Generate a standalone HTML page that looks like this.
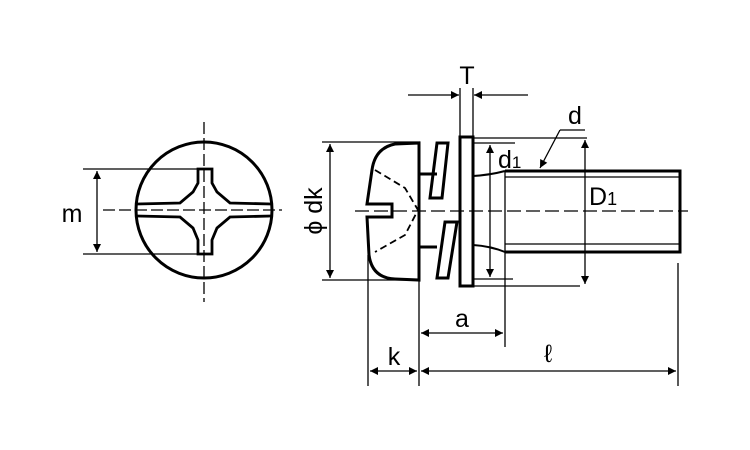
<!DOCTYPE html>
<html><head><style>body{margin:0;background:#fff}svg{display:block}</style></head><body>
<svg width="750" height="450" viewBox="0 0 750 450" xmlns="http://www.w3.org/2000/svg" font-family="Liberation Sans, sans-serif">
<defs>
<marker id="a" viewBox="0 0 10 10" refX="10" refY="5" markerWidth="14" markerHeight="8" markerUnits="userSpaceOnUse" orient="auto-start-reverse"><path d="M0,0L10,5L0,10z" fill="#000"/></marker>
</defs>
<g stroke="#000" fill="none">
<!-- front view -->
<circle cx="204" cy="210" r="68" stroke-width="3"/>
<line x1="204" y1="122" x2="204" y2="302" stroke-width="1.3" stroke-dasharray="12,4"/>
<line x1="103" y1="210" x2="282" y2="210" stroke-width="1.3" stroke-dasharray="12,4"/>
<path d="M137,204 L180,203 L193,192 L198,183 L198,169 L212,169 L212,183 L217,192 L230,203 L271,204 M137,216 L180,217 L193,228 L198,240 L198,254 L212,254 L212,240 L217,228 L230,217 L271,216" stroke-width="2.8"/>
<path d="M83,169H198M83,254H198" stroke-width="1.3"/>
<line x1="97" y1="171" x2="97" y2="252" stroke-width="1.3" marker-start="url(#a)" marker-end="url(#a)"/>
<!-- head -->
<path d="M419,143 L395,144 Q375,148 372,170 L367,204 L392,204 L392,217 L367,217 L369,255 Q372,278 395,279 L419,280 Z" stroke-width="3"/>
<path d="M375,170 L405,188 L418,210 L405,235 L375,252" stroke-width="1.8" stroke-dasharray="7,4"/>
<path d="M419,174H437M419,247H437" stroke-width="3"/>
<path d="M437,143L448,143L442,198L430,198Z M445,222L457,222L448,278L437,278Z" stroke-width="3"/>
<rect x="460" y="137" width="13" height="149" stroke-width="3"/>
<path d="M473,176 Q490,175 505,171 M473,245 Q490,246 505,252" stroke-width="2"/>
<path d="M505,171H680V252H505" stroke-width="3"/>
<path d="M505,177H680M505,244H680M505,171V252" stroke-width="1.3"/>
<line x1="355" y1="211" x2="688" y2="211" stroke-width="1.3" stroke-dasharray="14,5"/>
<path d="M322,142H420M322,280H420" stroke-width="1.3"/>
<line x1="330" y1="144" x2="330" y2="278" stroke-width="1.3" marker-start="url(#a)" marker-end="url(#a)"/>
<path d="M460,88V137M473,88V137" stroke-width="1.3"/>
<line x1="408" y1="95" x2="459" y2="95" stroke-width="1.3" marker-end="url(#a)"/>
<line x1="528" y1="95" x2="474" y2="95" stroke-width="1.3" marker-end="url(#a)"/>
<path d="M473,143H515M473,279H513" stroke-width="1.3"/>
<line x1="490" y1="145" x2="490" y2="277" stroke-width="1.3" marker-start="url(#a)" marker-end="url(#a)"/>
<path d="M473,138H587M473,286H580" stroke-width="1.3"/>
<line x1="585" y1="140" x2="585" y2="284" stroke-width="1.3" marker-start="url(#a)" marker-end="url(#a)"/>
<path d="M560,130H585" stroke-width="1.3"/>
<line x1="560" y1="130" x2="540" y2="168" stroke-width="1.3" marker-end="url(#a)"/>
<path d="M368,255V386M419,280V386M505,252V347M678,263V386" stroke-width="1.3"/>
<line x1="421" y1="333" x2="503" y2="333" stroke-width="1.3" marker-start="url(#a)" marker-end="url(#a)"/>
<line x1="370" y1="371" x2="417" y2="371" stroke-width="1.3" marker-start="url(#a)" marker-end="url(#a)"/>
<line x1="421" y1="371" x2="676" y2="371" stroke-width="1.3" marker-start="url(#a)" marker-end="url(#a)"/>
</g>
<g font-size="25" fill="#000">
<text x="72" y="222" text-anchor="middle">m</text>
<text x="467" y="84" text-anchor="middle">T</text>
<text x="575" y="124" text-anchor="middle">d</text>
<text x="498" y="168">d<tspan font-size="17">1</tspan></text>
<text x="589" y="205">D<tspan font-size="18">1</tspan></text>
<text x="462" y="327" text-anchor="middle">a</text>
<text x="394" y="365" text-anchor="middle">k</text>
<text x="548" y="362" text-anchor="middle">ℓ</text>
<text transform="translate(322,211) rotate(-90)" text-anchor="middle">ϕ dk</text>
</g>
</svg>
</body></html>
